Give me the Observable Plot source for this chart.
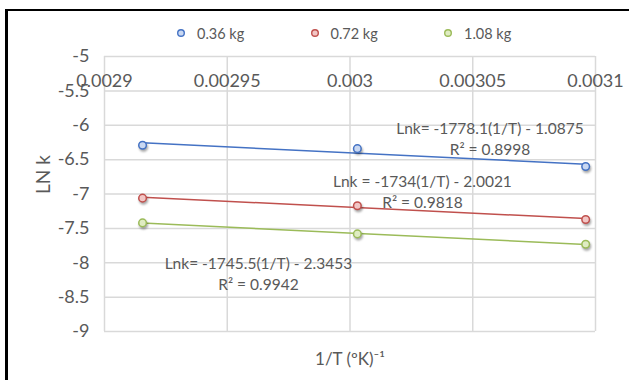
<!DOCTYPE html>
<html>
<head>
<meta charset="utf-8">
<script src="https://cdn.jsdelivr.net/npm/d3@7"></script>
<script src="https://cdn.jsdelivr.net/npm/@observablehq/plot@0.6"></script>
<style>
  html, body { margin: 0; padding: 0; background: #fff; }
  #wrap { position: relative; width: 629px; height: 380px; overflow: hidden; font-family: Lato, "Open Sans", sans-serif; }
  #frame { position: absolute; left: 5px; top: 9px; width: 700px; height: 500px; border-left: 3px solid #000; border-top: 2.5px solid #000; box-sizing: border-box; pointer-events: none; }
  #chart { position: absolute; left: 0; top: 0; }
  #chart svg circle { filter: drop-shadow(1px 2px 1.2px rgba(0,0,0,0.35)); }
  #legend { position: absolute; top: 24px; left: 176px; display: flex; font-size: 14.5px; color: #595959; }
  #legend .item { display: flex; align-items: center; width: 133.5px; height: 18px; }
  #legend svg { margin-right: 11px; }
</style>
</head>
<body>
<div id="wrap">
  <div id="chart"></div>
  <div id="legend"></div>
  <div id="frame"></div>
</div>
<script>
// ---- data ----
const series = ["0.36 kg", "0.72 kg", "1.08 kg"];
const invT = [0.0029155, 0.003003, 0.003096];
const lnk036 = [-6.29, -6.34, -6.60];
const lnk072 = [-7.06, -7.17, -7.37];
const lnk108 = [-7.42, -7.58, -7.73];

const xTicks = [0.0029, 0.00295, 0.003, 0.00305, 0.0031];
const xTickLabels = ["0.0029", "0.00295", "0.003", "0.00305", "0.0031"];
const yTicks = [-5, -5.5, -6, -6.5, -7, -7.5, -8, -8.5, -9];
const yTickLabels = ["-5", "-5.5", "-6", "-6.5", "-7", "-7.5", "-8", "-8.5", "-9"];

const annText = [
  "Lnk= -1778.1(1/T) - 1.0875\nR\u00b2 = 0.8998",
  "Lnk = -1734(1/T) - 2.0021\nR\u00b2 = 0.9818",
  "Lnk= -1745.5(1/T) - 2.3453\nR\u00b2 = 0.9942"
];
const annX = [0.003057, 0.0030295, 0.0029627];
const annY = [-6.185, -6.948, -8.14];

const xTitle = "1/T (\u00baK)\u207b\u00b9";
const yTitle = "LN k";

// ---- styles ----
const colors = ["#4472c4", "#c0504d", "#9bbb59"];
const fills = ["#c9d8f2", "#f2c6c5", "#dfecc2"];
const textColor = "#595959";

// ---- build tables ----
const values = [lnk036, lnk072, lnk108];
const rows = [];
series.forEach((s, si) => invT.forEach((x, i) => rows.push({series: s, invT: x, lnk: values[si][i]})));
const annots = annText.map((t, i) => ({text: t, x: annX[i], y: annY[i]}));

const marks = [
  Plot.gridX(xTicks, {stroke: "#d9d9d9", strokeOpacity: 1, strokeWidth: 1.5}),
  Plot.gridY(yTicks, {stroke: "#d9d9d9", strokeOpacity: 1, strokeWidth: 1.5}),
  Plot.axisY(yTicks, {
    tickSize: 0, tickPadding: 15, fontSize: 18, fill: textColor, label: null,
    tickFormat: d => yTickLabels[yTicks.indexOf(d)]
  }),
  Plot.text(xTicks, {
    x: d => d, text: d => xTickLabels[xTicks.indexOf(d)],
    frameAnchor: "top", lineAnchor: "middle", dy: 25, fontSize: 18, fill: textColor
  })
];
series.forEach((s, si) => {
  const data = rows.filter(r => r.series === s);
  marks.push(Plot.linearRegressionY(data, {x: "invT", y: "lnk", stroke: colors[si], strokeWidth: 1.5, ci: 0}));
});
series.forEach((s, si) => {
  const data = rows.filter(r => r.series === s);
  marks.push(Plot.dot(data, {x: "invT", y: "lnk", r: 3.8, stroke: colors[si], strokeWidth: 1.5, fill: fills[si]}));
});
marks.push(
  Plot.text(annots, {x: "x", y: "y", text: "text", fontSize: 15.5, lineHeight: 1.35, lineAnchor: "middle", fill: textColor}),
  Plot.text([yTitle], {text: d => d, frameAnchor: "left", dx: -61, rotate: -90, lineAnchor: "middle", fontSize: 19, fill: textColor}),
  Plot.text([xTitle], {text: d => d, frameAnchor: "bottom", dy: 28, lineAnchor: "middle", fontSize: 17, fill: textColor})
);

const chart = Plot.plot({
  width: 629, height: 380,
  marginLeft: 104, marginRight: 34, marginTop: 56, marginBottom: 49,
  x: {domain: [0.0029, 0.0031], axis: null},
  y: {domain: [-9, -5]},
  style: {fontFamily: "Lato, 'Open Sans', sans-serif", background: "transparent", color: textColor},
  marks
});
document.getElementById("chart").appendChild(chart);

// ---- legend ----
const legend = document.getElementById("legend");
series.forEach((s, si) => {
  const item = document.createElement("div");
  item.className = "item";
  item.innerHTML = `<svg width="10" height="10"><circle cx="5" cy="5" r="3.3" fill="${fills[si]}" stroke="${colors[si]}" stroke-width="1.4"></circle></svg><span>${s}</span>`;
  legend.appendChild(item);
});
</script>
</body>
</html>
